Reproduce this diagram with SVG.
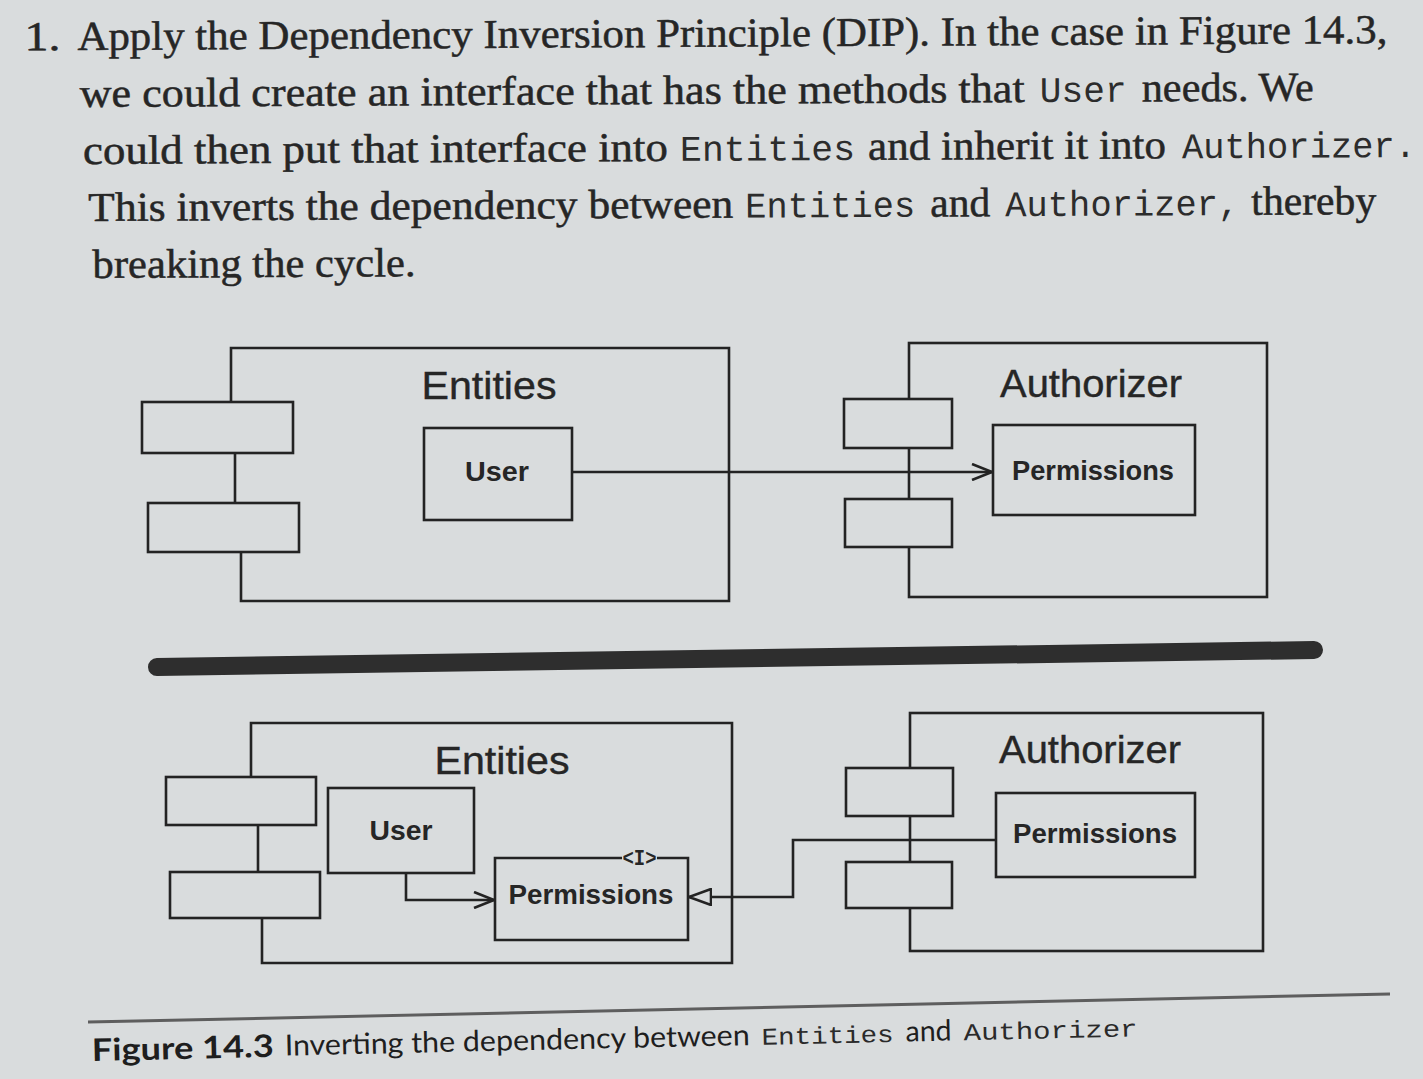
<svg xmlns="http://www.w3.org/2000/svg" width="1423" height="1079" viewBox="0 0 1423 1079">
<defs>
<style>
.bg{fill:#d9dcdd}
.box{fill:none;stroke:#232323;stroke-width:2.6}
.tab{fill:#d9dcdd;stroke:#232323;stroke-width:2.6}
.ln{fill:none;stroke:#232323;stroke-width:2.6}
.para{font-family:"Liberation Serif","Times New Roman",serif;font-size:41px;fill:#262626;stroke:#262626;stroke-width:0.5}
.pmono{font-family:"Liberation Mono","Courier New",monospace;font-size:36px;fill:#2c2c2c}
.title{font-family:"Liberation Sans",Arial,sans-serif;font-size:39px;fill:#262626;stroke:#262626;stroke-width:0.4;text-anchor:middle}
.cls{font-family:"Liberation Sans",Arial,sans-serif;font-size:27px;font-weight:bold;fill:#262626;text-anchor:middle}
.stereo{font-family:"Liberation Mono","Courier New",monospace;font-size:22px;font-weight:bold;fill:#262626;text-anchor:middle}
.cap{font-family:Lato,"Liberation Sans",sans-serif;font-size:29px;fill:#1e1e1e}
.capb{font-family:Lato,"Liberation Sans",sans-serif;font-size:31px;font-weight:bold;fill:#1e1e1e}
.cmono{font-family:"Liberation Mono","Courier New",monospace;font-size:24px;fill:#2a2a2a}
</style>
<marker id="openArrow" viewBox="0 0 22 18" refX="21" refY="9" markerWidth="22" markerHeight="18" markerUnits="userSpaceOnUse" orient="auto">
<path d="M1,1 L21,9 L1,17" fill="none" stroke="#232323" stroke-width="2.6"/>
</marker>
<marker id="triangle" viewBox="0 0 24 18" refX="23" refY="9" markerWidth="24" markerHeight="18" markerUnits="userSpaceOnUse" orient="auto">
<path d="M1,1 L23,9 L1,17 Z" fill="#d9dcdd" stroke="#232323" stroke-width="2.6"/>
</marker>
</defs>
<rect class="bg" x="0" y="0" width="1423" height="1079"/>

<g id="paragraph" transform="rotate(-0.3 80 160)">
<text class="para" x="25" y="50" textLength="36" lengthAdjust="spacingAndGlyphs">1.</text>
<text class="para" x="78" y="50" textLength="1310" lengthAdjust="spacingAndGlyphs">Apply the Dependency Inversion Principle (DIP). In the case in Figure 14.3,</text>
<text class="para" x="80" y="107" textLength="945" lengthAdjust="spacingAndGlyphs">we could create an interface that has the methods that</text>
<text class="pmono" x="1040" y="107" textLength="87" lengthAdjust="spacingAndGlyphs">User</text>
<text class="para" x="1142" y="107" textLength="172" lengthAdjust="spacingAndGlyphs">needs. We</text>
<text class="para" x="83" y="164" textLength="585" lengthAdjust="spacingAndGlyphs">could then put that interface into</text>
<text class="pmono" x="680" y="164" textLength="175" lengthAdjust="spacingAndGlyphs">Entities</text>
<text class="para" x="868" y="164" textLength="298" lengthAdjust="spacingAndGlyphs">and inherit it into</text>
<text class="pmono" x="1182" y="164" textLength="234" lengthAdjust="spacingAndGlyphs">Authorizer.</text>
<text class="para" x="88" y="221" textLength="645" lengthAdjust="spacingAndGlyphs">This inverts the dependency between</text>
<text class="pmono" x="745" y="221" textLength="170" lengthAdjust="spacingAndGlyphs">Entities</text>
<text class="para" x="930" y="221" textLength="60" lengthAdjust="spacingAndGlyphs">and</text>
<text class="pmono" x="1005" y="221" textLength="234" lengthAdjust="spacingAndGlyphs">Authorizer,</text>
<text class="para" x="1251" y="221" textLength="125" lengthAdjust="spacingAndGlyphs">thereby</text>
<text class="para" x="92" y="278" textLength="323" lengthAdjust="spacingAndGlyphs">breaking the cycle.</text>
</g>

<!-- Top diagram -->
<g id="top-entities">
<path class="box" d="M241,601 V527 H235 V427 H231 V348 H729 V601 Z"/>
<rect class="tab" x="142" y="402" width="151" height="51"/>
<rect class="tab" x="148" y="503" width="151" height="49"/>
<text class="title" x="489" y="399" textLength="135" lengthAdjust="spacingAndGlyphs">Entities</text>
</g>
<g id="top-user">
<rect class="box" x="424" y="428" width="148" height="92"/>
<text class="cls" x="497" y="481" textLength="64" lengthAdjust="spacingAndGlyphs">User</text>
</g>
<g id="top-authorizer">
<rect class="box" x="909" y="343" width="358" height="254"/>
<rect class="tab" x="844" y="399" width="108" height="49"/>
<rect class="tab" x="845" y="499" width="107" height="48"/>
<text class="title" x="1091" y="397" textLength="182" lengthAdjust="spacingAndGlyphs">Authorizer</text>
</g>
<g id="top-permissions">
<rect class="box" x="993" y="425" width="202" height="90"/>
<text class="cls" x="1093" y="480" textLength="162" lengthAdjust="spacingAndGlyphs">Permissions</text>
</g>

<g id="divider">
<line x1="157" y1="667" x2="1314" y2="650" stroke="#2e2e2e" stroke-width="18" stroke-linecap="round"/>
</g>

<!-- Bottom diagram -->
<g id="bottom-entities">
<path class="box" d="M262,963 V895 H258 V800 H251 V723 H732 V963 Z"/>
<rect class="tab" x="166" y="777" width="150" height="48"/>
<rect class="tab" x="170" y="872" width="150" height="46"/>
<text class="title" x="502" y="774" textLength="135" lengthAdjust="spacingAndGlyphs">Entities</text>
</g>
<g id="bottom-user">
<rect class="box" x="328" y="788" width="146" height="85"/>
<text class="cls" x="401" y="840" textLength="63" lengthAdjust="spacingAndGlyphs">User</text>
</g>
<g id="bottom-ipermissions">
<path class="box" d="M622,858 H495 V940 H688 V858 H657"/>
<text class="stereo" x="639.5" y="865" textLength="34" lengthAdjust="spacingAndGlyphs">&lt;I&gt;</text>
<text class="cls" x="591" y="904" textLength="165" lengthAdjust="spacingAndGlyphs">Permissions</text>
</g>
<g id="bottom-authorizer">
<rect class="box" x="910" y="713" width="353" height="238"/>
<rect class="tab" x="846" y="768" width="107" height="48"/>
<rect class="tab" x="846" y="862" width="106" height="46"/>
<text class="title" x="1090" y="763" textLength="182" lengthAdjust="spacingAndGlyphs">Authorizer</text>
</g>
<g id="bottom-permissions">
<rect class="box" x="996" y="793" width="199" height="84"/>
<text class="cls" x="1095" y="843" textLength="164" lengthAdjust="spacingAndGlyphs">Permissions</text>
</g>

<g id="connectors">
<path class="ln" d="M572,472 H992" marker-end="url(#openArrow)"/>
<path class="ln" d="M406,873 V900 H494" marker-end="url(#openArrow)"/>
<path class="ln" d="M996,840 H793 V897 H689" marker-end="url(#triangle)"/>
</g>

<g id="caption">
<line x1="88" y1="1022" x2="1390" y2="994" stroke="#5e5e5e" stroke-width="3"/>
<g transform="rotate(-1.3 92 1060)">
<text class="capb" x="92" y="1061" textLength="182" lengthAdjust="spacingAndGlyphs">Figure 14.3</text>
<text class="cap" x="285" y="1060" textLength="465" lengthAdjust="spacingAndGlyphs">Inverting the dependency between</text>
<text class="cmono" x="762" y="1060" textLength="132" lengthAdjust="spacingAndGlyphs">Entities</text>
<text class="cap" x="906" y="1060" textLength="46" lengthAdjust="spacingAndGlyphs">and</text>
<text class="cmono" x="964" y="1060" textLength="174" lengthAdjust="spacingAndGlyphs">Authorizer</text>
</g>
</g>
</svg>
